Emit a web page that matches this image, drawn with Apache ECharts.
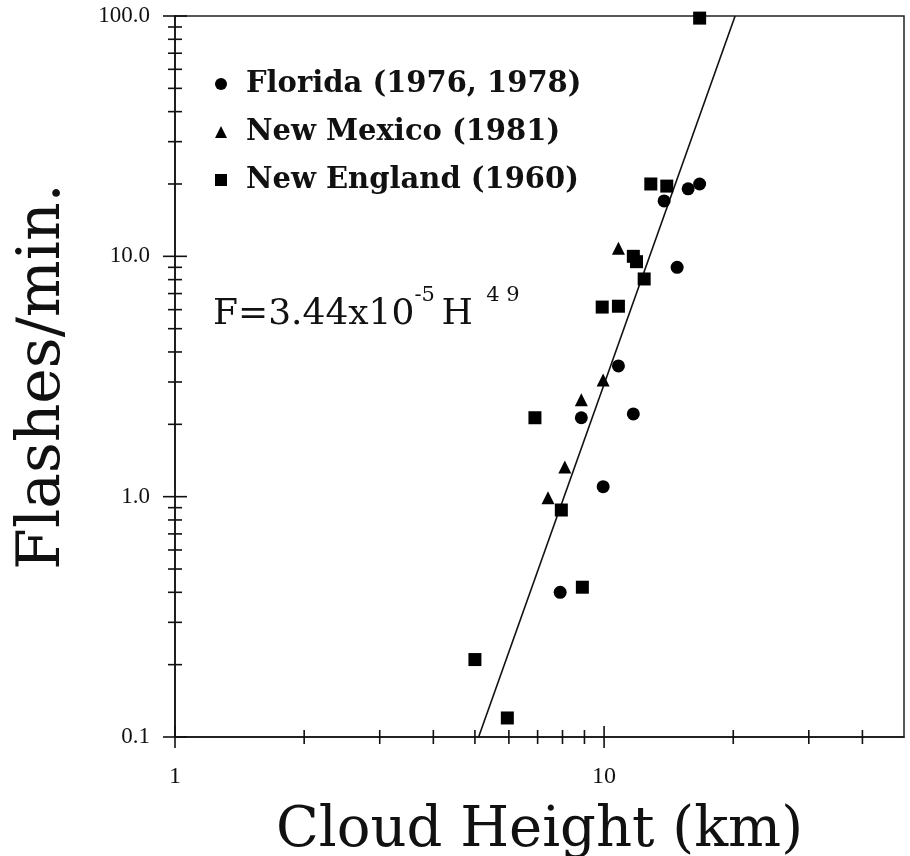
<!DOCTYPE html>
<html>
<head>
<meta charset="utf-8">
<script src="https://cdn.jsdelivr.net/npm/echarts@6/dist/echarts.min.js"></script>
<style>
  html, body { margin: 0; background: #fff; }
  #chart { width: 910px; height: 856px; }
</style>
</head>
<body>
<div id="chart"></div>
<script>
// cloud height (km) and flash rate (flashes/min)
const floridaH = [13.8, 15.7, 16.7, 14.8, 10.8, 8.85, 11.7, 9.95, 7.9];
const floridaF = [17.0, 19.1, 20.0, 9.0, 3.5, 2.13, 2.21, 1.1, 0.4];

const newMexicoH = [10.8, 9.95, 8.85, 8.1, 7.4];
const newMexicoF = [10.8, 3.06, 2.53, 1.33, 0.99];

const newEnglandH = [16.7, 12.85, 14.0, 11.7, 11.9, 12.4, 9.9, 10.8, 6.9, 7.95, 8.9, 5.0, 5.95];
const newEnglandF = [98, 20.0, 19.6, 10.0, 9.5, 8.05, 6.15, 6.2, 2.13, 0.88, 0.42, 0.21, 0.12];

// fit F = 3.44e-5 * H^4.9, drawn between its ends on the plot
const fitH = [5.1, 20.2];
const fitF = [0.1, 100];

const seriesNames = ['Florida (1976, 1978)', 'New Mexico (1981)', 'New England (1960)'];

const xMajorTicks = [1, 10];
const xMinorTicks = [2, 3, 4, 5, 6, 7, 8, 9, 20, 30, 40];
const yMajorTicks = [0.1, 1, 10, 100];
const yMinorTicks = [0.2, 0.3, 0.4, 0.5, 0.6, 0.7, 0.8, 0.9, 2, 3, 4, 5, 6, 7, 8, 9, 20, 30, 40, 50, 60, 70, 80, 90];

const serif = 'DejaVu Serif';
const pair = (xs, ys) => xs.map((x, i) => [x, ys[i]]);

const chart = echarts.init(document.getElementById('chart'));

const xTickItem = (params, api) => {
  const v = api.value(0);
  const len = xMajorTicks.includes(v) ? 11 : 7;
  const p = api.coord([v, 0.1]);
  return {
    type: 'line',
    shape: { x1: p[0], y1: p[1] - len, x2: p[0], y2: p[1] + len },
    style: { stroke: '#111', lineWidth: 1.6 }
  };
};
const yTickItem = (params, api) => {
  const v = api.value(1);
  const len = yMajorTicks.includes(v) ? 12 : 7;
  const p = api.coord([1, v]);
  return {
    type: 'line',
    shape: { x1: p[0] - len, y1: p[1], x2: p[0] + len, y2: p[1] },
    style: { stroke: '#111', lineWidth: 1.6 }
  };
};

const option = {
  backgroundColor: '#fff',
  animation: false,
  grid: {
    left: 175, right: 6, top: 16, bottom: 119,
    outerBoundsMode: 'none', containLabel: false,
    show: true, borderColor: '#222', borderWidth: 1.5
  },
  legend: {
    orient: 'vertical',
    left: 210, top: 64,
    itemWidth: 12, itemHeight: 12, itemGap: 18,
    selectedMode: false,
    data: [
      { name: seriesNames[0], icon: 'circle' },
      { name: seriesNames[1], icon: 'triangle' },
      { name: seriesNames[2], icon: 'rect' }
    ],
    textStyle: {
      fontFamily: serif, fontSize: 29, fontWeight: 'bold', color: '#111',
      lineHeight: 30, padding: [0, 0, 0, 14]
    }
  },
  xAxis: {
    type: 'log', logBase: 10, min: 1, max: 50,
    name: 'Cloud Height (km)', nameLocation: 'middle', nameGap: 66,
    nameTextStyle: { fontFamily: serif, fontSize: 56, color: '#111' },
    axisLine: { show: true, lineStyle: { color: '#111', width: 1.6 } },
    axisTick: { show: false },
    splitLine: { show: false },
    axisLabel: {
      margin: 28, fontFamily: 'Liberation Serif', fontSize: 24, color: '#111',
      formatter: v => (xMajorTicks.includes(Math.round(v)) && Math.abs(v - Math.round(v)) < 1e-6 ? String(Math.round(v)) : '')
    }
  },
  yAxis: {
    type: 'log', logBase: 10, min: 0.1, max: 100,
    name: 'Flashes/min.', nameLocation: 'middle', nameGap: 102,
    nameTextStyle: { fontFamily: serif, fontSize: 60, color: '#111' },
    axisLine: { show: true, lineStyle: { color: '#111', width: 1.6 } },
    axisTick: { show: false },
    splitLine: { show: false },
    axisLabel: {
      margin: 25, fontFamily: 'Liberation Serif', fontSize: 23, color: '#111',
      formatter: v => v.toFixed(1)
    }
  },
  graphic: [{
    type: 'text',
    left: 213, top: 285,
    style: {
      text: '{a|F=3.44x10}{s|-5 }{a|H}{s|  4 9}',
      rich: {
        a: { fontFamily: serif, fontSize: 36, fill: '#111', lineHeight: 48, verticalAlign: 'bottom' },
        s: { fontFamily: serif, fontSize: 21, fill: '#111', lineHeight: 24, verticalAlign: 'top' }
      }
    }
  }],
  series: [
    {
      name: seriesNames[0], type: 'scatter', symbol: 'circle', symbolSize: 13,
      itemStyle: { color: '#000', opacity: 1 }, data: pair(floridaH, floridaF), z: 5
    },
    {
      name: seriesNames[1], type: 'scatter', symbol: 'triangle', symbolSize: 13,
      itemStyle: { color: '#000', opacity: 1 }, data: pair(newMexicoH, newMexicoF), z: 5
    },
    {
      name: seriesNames[2], type: 'scatter', symbol: 'rect', symbolSize: 13,
      itemStyle: { color: '#000', opacity: 1 }, data: pair(newEnglandH, newEnglandF), z: 5
    },
    {
      name: 'fit', type: 'line', data: pair(fitH, fitF),
      showSymbol: false, symbol: 'none',
      lineStyle: { color: '#111', width: 1.6 }, z: 4
    },
    {
      name: 'xticks', type: 'custom', clip: false, silent: true,
      renderItem: xTickItem,
      data: xMajorTicks.concat(xMinorTicks).map(v => [v, 0.1])
    },
    {
      name: 'yticks', type: 'custom', clip: false, silent: true,
      renderItem: yTickItem,
      data: yMajorTicks.concat(yMinorTicks).map(v => [1, v])
    }
  ]
};

chart.setOption(option);
window.addEventListener('resize', () => chart.resize());
</script>
</body>
</html>
